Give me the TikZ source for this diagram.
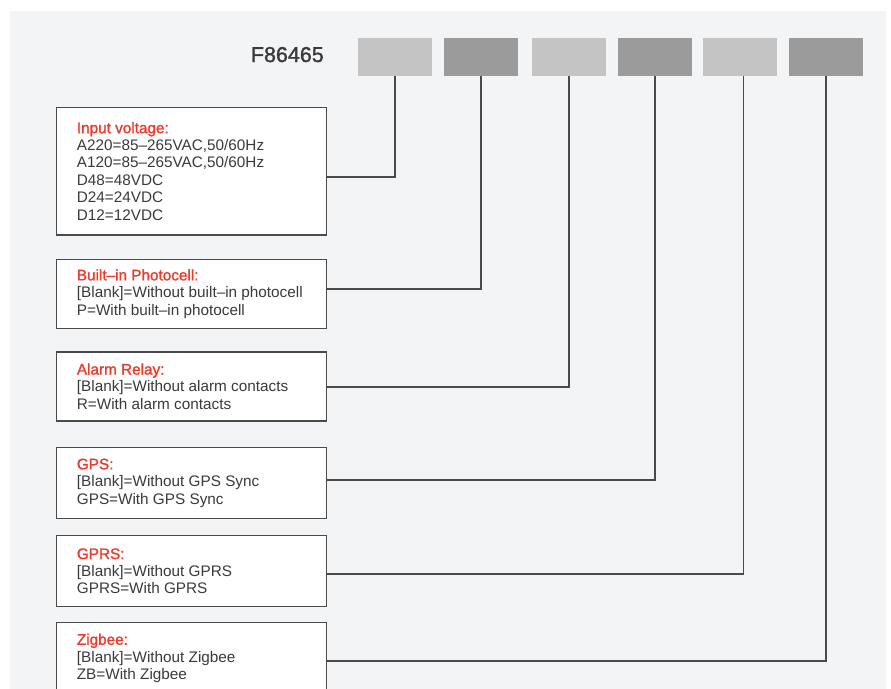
\documentclass[tikz,border=0pt]{standalone}
\usepackage{fontspec}
\setmainfont{Liberation Sans}
\newfontfamily\medfont[FakeBold=1.4]{Liberation Sans}
\definecolor{bgc}{HTML}{F3F4F6}
\definecolor{lightbox}{HTML}{C4C4C4}
\definecolor{darkbox}{HTML}{9B9B9B}
\definecolor{linec}{HTML}{4A4A4A}
\definecolor{txtc}{HTML}{3A3A3A}
\definecolor{redc}{HTML}{EE3A2A}
\newcommand{\ttl}[1]{{\medfont\textcolor{redc}{#1}}}
\tikzset{
  topbox/.style={minimum width=74pt, minimum height=38pt, inner sep=0pt, outer sep=0pt},
  optbox/.style={draw=linec, line width=1.2pt, fill=white, minimum width=270pt, inner sep=0pt, outer sep=0pt},
  opttext/.style={anchor=west, inner sep=0pt, align=left, text=txtc, font=\fontsize{15.3}{17.4}\selectfont},
  conn/.style={draw=linec, line width=1.2pt},
}
\begin{document}
\begin{tikzpicture}[x=1pt,y=-1pt]
\useasboundingbox (0,0) rectangle (891,688);
\clip (0,0) rectangle (891,688);
\fill[bgc] (10,11) rectangle (886,690);

\node[anchor=base east, inner sep=0pt, text=txtc, font=\medfont\fontsize{21.5}{24}\selectfont] (title) at (324,62) {F86465};

\node[topbox, fill=lightbox] (t1) at (395,57) {};
\node[topbox, fill=darkbox]  (t2) at (481,57) {};
\node[topbox, fill=lightbox] (t3) at (569,57) {};
\node[topbox, fill=darkbox]  (t4) at (655,57) {};
\node[topbox, fill=lightbox] (t5) at (740,57) {};
\node[topbox, fill=darkbox]  (t6) at (826,57) {};

\node[optbox, minimum height=127.7pt] (b1) at (191.7,171.2) {};
\node[optbox, minimum height=69pt]    (b2) at (191.7,293.8) {};
\node[optbox, minimum height=69pt]    (b3) at (191.7,386.5) {};
\node[optbox, minimum height=71.4pt]  (b4) at (191.7,483) {};
\node[optbox, minimum height=71pt]    (b5) at (191.7,571.2) {};
\node[optbox, minimum height=71pt]    (b6) at (191.7,658.2) {};

\node[opttext] (x1) at ([xshift=20pt]b1.west) {\ttl{Input voltage:}\\A220=85–265VAC,50/60Hz\\A120=85–265VAC,50/60Hz\\D48=48VDC\\D24=24VDC\\D12=12VDC};
\node[opttext] (x2) at ([xshift=20pt]b2.west) {\ttl{Built–in Photocell:}\\{[Blank]}=Without built–in photocell\\P=With built–in photocell};
\node[opttext] (x3) at ([xshift=20pt]b3.west) {\ttl{Alarm Relay:}\\{[Blank]}=Without alarm contacts\\R=With alarm contacts};
\node[opttext] (x4) at ([xshift=20pt]b4.west) {\ttl{GPS:}\\{[Blank]}=Without GPS Sync\\GPS=With GPS Sync};
\node[opttext] (x5) at ([xshift=20pt]b5.west) {\ttl{GPRS:}\\{[Blank]}=Without GPRS\\GPRS=With GPRS};
\node[opttext] (x6) at ([xshift=20pt]b6.west) {\ttl{Zigbee:}\\{[Blank]}=Without Zigbee\\ZB=With Zigbee};

\draw[conn] (b1.east |- 0,177) -| (t1.south);
\draw[conn] (b2.east |- 0,289) -| (t2.south);
\draw[conn] (b3.east |- 0,387) -| (t3.south);
\draw[conn] (b4.east |- 0,480) -| (t4.south);
\draw[conn] (b5.east |- 0,574) -| ([xshift=3.5pt]t5.south);
\draw[conn] (b6.east |- 0,661) -| (t6.south);
\end{tikzpicture}
\end{document}
